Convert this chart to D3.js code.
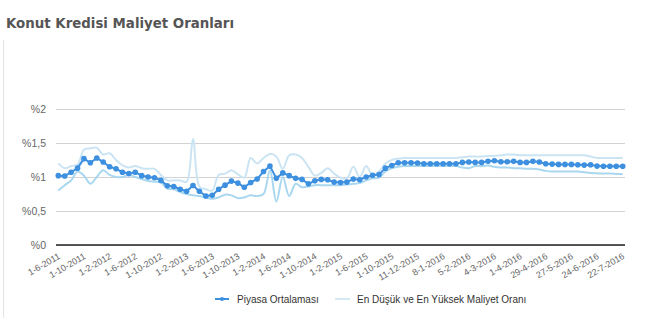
<!DOCTYPE html>
<html><head><meta charset="utf-8">
<script src="https://cdn.jsdelivr.net/npm/d3@7/dist/d3.min.js"></script>
<style>body{margin:0;background:#fff}svg{display:block}</style>
</head><body>
<svg id="c" width="648" height="323"></svg>
<script>
const title = "Konut Kredisi Maliyet Oranları";
const tickLabels = ["1-6-2011","1-10-2011","1-2-2012","1-6-2012","1-10-2012","1-2-2013","1-6-2013","1-10-2013","1-2-2014","1-6-2014","1-10-2014","1-2-2015","1-6-2015","1-10-2015","11-12-2015","8-1-2016","5-2-2016","4-3-2016","1-4-2016","29-4-2016","27-5-2016","24-6-2016","22-7-2016"];
const yTicks = [0, 0.5, 1, 1.5, 2];
const yTickLabels = ["%0","%0,5","%1","%1,5","%2"];
const seriesNames = ["Piyasa Ortalaması","En Düşük ve En Yüksek Maliyet Oranı"];
const avg = [1.02,1.015,1.07,1.13,1.27,1.21,1.28,1.22,1.15,1.12,1.07,1.05,1.07,1.02,1.0,0.99,0.95,0.87,0.86,0.82,0.79,0.875,0.79,
 0.72,0.73,0.82,0.88,0.94,0.91,0.85,0.92,0.97,1.08,1.16,0.98,1.06,1.02,0.98,0.965,0.90,0.945,0.965,0.96,0.925,0.92,0.925,0.97,0.96,1.0,1.025,1.035,1.13,1.17,
 1.21,1.21,1.21,1.205,1.195,1.195,1.195,1.195,1.195,1.195,1.215,1.22,1.215,1.215,1.23,1.24,1.225,1.225,1.23,1.215,1.215,1.23,1.22,1.195,1.19,1.185,1.185,1.185,1.18,1.175,1.18,1.16,1.157,1.157,1.157,1.157];
const maxRate = [1.20,1.13,1.16,1.18,1.40,1.42,1.43,1.33,1.35,1.25,1.17,1.14,1.16,1.13,1.12,1.12,1.03,0.95,0.95,0.95,0.93,1.56,0.86,
 0.82,0.80,1.03,1.05,1.10,1.04,0.99,1.28,1.20,1.28,1.34,1.30,1.12,1.32,1.33,1.28,1.15,1.02,1.06,1.13,1.05,0.99,0.98,1.15,1.00,1.16,1.03,1.08,1.20,1.25,
 1.27,1.28,1.28,1.28,1.28,1.28,1.28,1.28,1.28,1.28,1.29,1.30,1.30,1.30,1.31,1.31,1.32,1.33,1.33,1.32,1.32,1.32,1.32,1.32,1.32,1.32,1.32,1.32,1.32,1.32,1.30,1.28,1.28,1.28,1.28,1.28];
const minRate = [0.80,0.88,0.95,1.08,1.02,0.90,1.00,1.10,1.03,1.00,1.00,1.03,1.00,0.97,0.94,0.93,0.92,0.83,0.82,0.78,0.75,0.73,0.72,
 0.70,0.68,0.70,0.74,0.73,0.69,0.70,0.73,0.72,0.75,1.10,0.64,1.00,0.72,0.90,0.85,0.86,0.88,0.88,0.88,0.88,0.88,0.89,0.90,0.91,0.95,0.98,0.99,1.08,1.13,
 1.15,1.16,1.16,1.16,1.16,1.16,1.16,1.16,1.16,1.16,1.14,1.13,1.16,1.16,1.17,1.15,1.14,1.14,1.13,1.13,1.12,1.12,1.11,1.09,1.08,1.08,1.08,1.08,1.08,1.07,1.06,1.055,1.05,1.05,1.045,1.04];
const labelStep = 4;

const svg = d3.select("#c");
const x = d3.scaleLinear().domain([0, avg.length - 1]).range([58.3, 622.7]);
const y = d3.scaleLinear().domain([0, 2]).range([245, 109]);
const gx0 = 56, gx1 = 625;

svg.append("line").attr("x1",3.5).attr("x2",3.5).attr("y1",40).attr("y2",318).attr("stroke","#e4e4e4");

svg.append("text").attr("x",6).attr("y",28).text(title)
  .attr("font-family","DejaVu Sans, sans-serif").attr("font-weight","bold").attr("font-size",14)
  .attr("fill","#555").attr("textLength",228).attr("lengthAdjust","spacingAndGlyphs");

// grid
const yAxis = d3.axisLeft(y).tickValues(yTicks).tickSize(-(gx1-gx0)).tickFormat((d,i)=>yTickLabels[i]);
const gy = svg.append("g").attr("transform",`translate(${gx0},0)`).call(yAxis);
gy.select(".domain").remove();
gy.selectAll(".tick line").attr("stroke","#d2d2d2");
gy.selectAll(".tick text").attr("x",-10).attr("fill","#666").attr("font-size",10.5)
  .attr("font-family","Liberation Sans, Arial, sans-serif");

// x axis
const xAxis = d3.axisBottom(x).tickValues(tickLabels.map((d,i)=>i*labelStep)).tickSize(0)
  .tickFormat((d,i)=>tickLabels[i]);
const gxa = svg.append("g").attr("transform",`translate(0,${y(0)})`).call(xAxis);
gxa.select(".domain").remove();
svg.append("line").attr("x1",gx0).attr("x2",gx1).attr("y1",y(0)).attr("y2",y(0)).attr("stroke","#222").attr("stroke-width",1.5);
gxa.selectAll(".tick text").attr("fill","#666").attr("font-size",9)
  .attr("font-family","Liberation Sans, Arial, sans-serif")
  .attr("text-anchor","end").attr("dy",0).attr("y",0)
  .attr("transform","translate(2,13) rotate(-30)");

const line = d3.line().x((d,i)=>x(i)).y(d=>y(d));
const spline = d3.line().x((d,i)=>x(i)).y(d=>y(d)).curve(d3.curveCatmullRom.alpha(0.5));

svg.append("path").datum(maxRate).attr("d",spline).attr("fill","none").attr("stroke","#cbe4f3").attr("stroke-width",2);
svg.append("path").datum(minRate).attr("d",spline).attr("fill","none").attr("stroke","#a9d7ef").attr("stroke-width",2);

svg.append("path").datum(avg).attr("d",line).attr("fill","none").attr("stroke","#3d8fdf").attr("stroke-width",2);
svg.append("g").selectAll("circle").data(avg).join("circle")
  .attr("cx",(d,i)=>x(i)).attr("cy",d=>y(d)).attr("r",2.8).attr("fill","#3d8fdf");

// legend
const lg = svg.append("g").attr("font-family","Liberation Sans, Arial, sans-serif").attr("font-size",10).attr("fill","#333");
lg.append("line").attr("x1",215).attr("x2",229).attr("y1",299).attr("y2",299).attr("stroke","#3d8fdf").attr("stroke-width",2);
lg.append("circle").attr("cx",222).attr("cy",299).attr("r",2).attr("fill","#3d8fdf");
lg.append("text").attr("x",237).attr("y",302.5).text(seriesNames[0]);
lg.append("line").attr("x1",335).attr("x2",350).attr("y1",299).attr("y2",299).attr("stroke","#d3eaf6").attr("stroke-width",2);
lg.append("text").attr("x",357).attr("y",302.5).text(seriesNames[1]);
</script>
</body></html>
